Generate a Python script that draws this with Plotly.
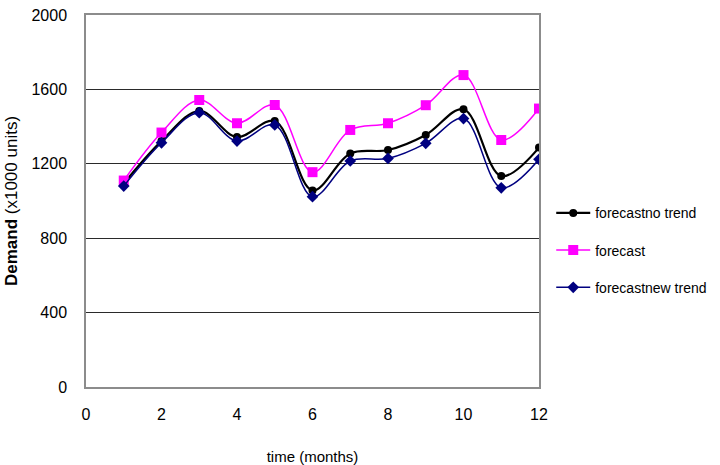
import plotly.graph_objects as go

months = [1, 2, 3, 4, 5, 6, 7, 8, 9, 10, 11, 12]
no_trend = [1094, 1322, 1484, 1344, 1430, 1057, 1256, 1274, 1355, 1493, 1134, 1287]
forecast = [1110, 1368, 1543, 1418, 1516, 1155, 1382, 1418, 1515, 1677, 1328, 1497]
new_trend = [1080, 1313, 1475, 1322, 1409, 1023, 1215, 1229, 1310, 1443, 1071, 1224]

x_ticks = [0, 2, 4, 6, 8, 10, 12]
y_ticks = [0, 400, 800, 1200, 1600, 2000]

FONT = "Liberation Sans, Arial, sans-serif"

fig = go.Figure()
fig.add_trace(go.Scatter(
    x=months, y=no_trend, name="forecastno trend", mode="lines+markers",
    line=dict(color="#000000", width=2.2, shape="spline", smoothing=1),
    marker=dict(symbol="circle", size=8, color="#000000"),
    legendgroup="a"))
fig.add_trace(go.Scatter(
    x=months, y=forecast, name="forecast", mode="lines+markers",
    line=dict(color="#FF00FF", width=1.5, shape="spline", smoothing=1),
    marker=dict(symbol="square", size=10, color="#FF00FF"),
    legendgroup="b"))
fig.add_trace(go.Scatter(
    x=months, y=new_trend, name="forecastnew trend", mode="lines+markers",
    line=dict(color="#000080", width=1.5, shape="spline", smoothing=1),
    marker=dict(symbol="diamond", size=9, color="#000080"),
    legendgroup="c"))

fig.update_layout(
    width=720, height=465,
    margin=dict(l=86, r=181, t=15, b=78, autoexpand=False),
    paper_bgcolor="white", plot_bgcolor="white",
    font=dict(family=FONT, size=16, color="#000000"),
    showlegend=True,
    legend=dict(x=1.027, xanchor="left", y=0.51, yanchor="top",
                font=dict(size=14), tracegroupgap=16, itemwidth=34,
                bgcolor="rgba(0,0,0,0)"),
)
fig.update_xaxes(
    range=[0, 12], tickvals=x_ticks, ticktext=[str(v) for v in x_ticks],
    showgrid=False, zeroline=False, showline=True, mirror=True,
    linecolor="#8c8c8c", linewidth=1.5, ticks="", ticklabelstandoff=12,
    automargin=False,
    title=dict(text="time (months)", standoff=40, font=dict(size=15)),
)
fig.update_yaxes(
    range=[0, 2000], tickvals=y_ticks, ticktext=[str(v) for v in y_ticks],
    showgrid=True, gridcolor="#2a2a2a", gridwidth=1.3, zeroline=False,
    showline=True, mirror=True, linecolor="#8c8c8c", linewidth=1.5,
    ticks="", ticklabelstandoff=14, automargin=False,
    title=dict(text="<b>Demand</b> (x1000 units)", standoff=10, font=dict(size=17)),
)

fig.write_html("out.html")
